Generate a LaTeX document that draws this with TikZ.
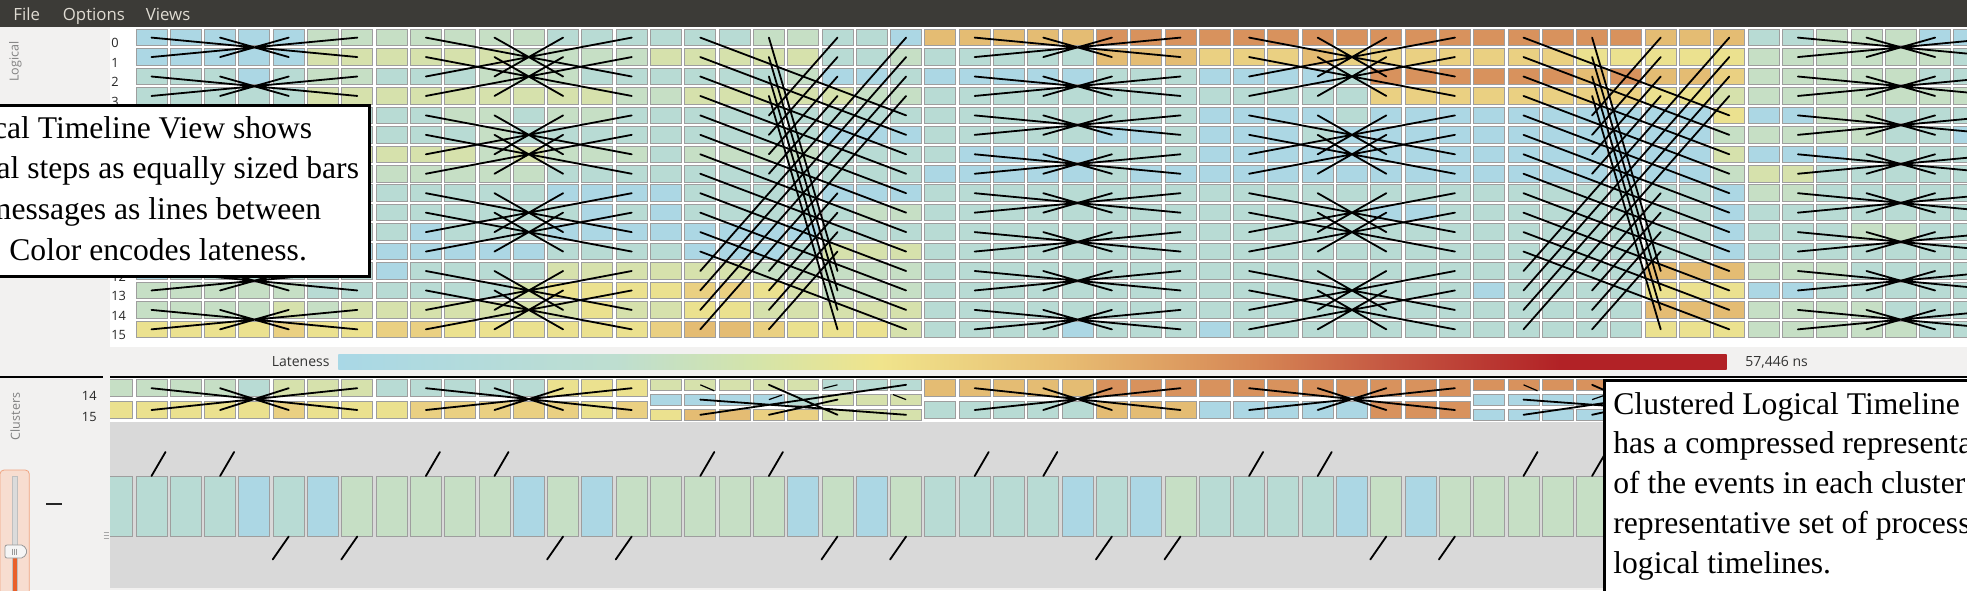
\documentclass[tikz,border=0pt]{standalone}
\usepackage{fontspec}
\setmainfont{Liberation Serif}
\newfontfamily\uifont{Open Sans}

% lateness colours of the cells
\definecolor{colB}{RGB}{172,215,228}
\definecolor{colT}{RGB}{184,219,212}
\definecolor{colG}{RGB}{198,223,197}
\definecolor{colL}{RGB}{214,225,172}
\definecolor{colY}{RGB}{235,225,143}
\definecolor{colD}{RGB}{234,208,130}
\definecolor{colA}{RGB}{228,188,115}
\definecolor{colO}{RGB}{216,146,93}
% window
\definecolor{menubg}{RGB}{60,59,55}
\definecolor{menufg}{RGB}{223,219,210}
\definecolor{panel}{RGB}{242,241,240}
\definecolor{trough}{RGB}{217,217,217}
\definecolor{slidefill}{RGB}{247,221,208}
\definecolor{slideedge}{RGB}{240,164,128}
\definecolor{slideorange}{RGB}{233,95,42}
% lateness scale
\definecolor{lsB}{RGB}{169,216,230}
\definecolor{lsT}{RGB}{190,222,208}
\definecolor{lsG}{RGB}{212,228,170}
\definecolor{lsY}{RGB}{240,228,140}
\definecolor{lsA}{RGB}{232,190,115}
\definecolor{lsO}{RGB}{214,135,85}
\definecolor{lsR2}{RGB}{196,85,65}
\definecolor{lsR}{RGB}{178,34,38}
\pgfdeclarehorizontalshading{lateness}{100bp}{color(0bp)=(lsB); color(25bp)=(lsB);
  color(35bp)=(lsT); color(40bp)=(lsG); color(44.5bp)=(lsY); color(51bp)=(lsA);
  color(58bp)=(lsO); color(63bp)=(lsR2); color(69bp)=(lsR); color(75bp)=(lsR); color(100bp)=(lsR)}

\tikzset{
  cell/.style={draw=black!38, line width=0.5pt},
  msg/.style={line width=0.9pt, line cap=round},
  callout/.style={draw=black, line width=1.5pt, fill=white},
  notetext/.style={anchor=base west, inner sep=0pt, font=\fontsize{15.8}{19}\selectfont},
  menutext/.style={anchor=base west, inner sep=0pt, text=menufg, font=\uifont\fontsize{8.4}{10}\selectfont},
  rowlabel/.style={anchor=base west, inner sep=0pt, text=black!85, font=\uifont\fontsize{6.4}{7.5}\selectfont},
  sidetext/.style={inner sep=0pt, rotate=90, text=black!50, font=\uifont\fontsize{6.25}{7.5}\selectfont},
  scaletext/.style={anchor=base west, inner sep=0pt, text=black!80, font=\uifont\fontsize{7}{8}\selectfont}
}

% first column, top, height, colour codes
\newcommand{\cellrun}[4]{%
  \foreach \code [count=\col from #1] in #4
    \draw[cell, fill=col\code] ({136+34.3*\col},{#2}) rectangle +(31,#3);}

\begin{document}
\begin{tikzpicture}[x=0.5pt, y=-0.5pt]
\useasboundingbox (0,0) rectangle (1967,590);
\clip (0,0) rectangle (1967,590);
\fill[panel] (0,0) rectangle (1967,590);

% menu bar
\fill[menubg] (0,0) rectangle (1967,27);
\node[menutext] (mfile) at (13,20) {File};
\node[menutext] (moptions) at (62.5,20) {Options};
\node[menutext] (mviews) at (145.5,20) {Views};

% logical timeline
\fill[white] (110,27) rectangle (1967,347);
\foreach \cl [count=\row from 0] in {
  {B,B,B,B,B,G,G,G,G,G,G,G,T,T,T,T,T,T,G,G,T,T,B,A,A,A,A,A,O,O,O,O,O,O,O,O,O,O,O,O,O,O,O,O,A,A,A,T,T,G,G,G,B,B},
  {B,B,B,B,B,L,L,L,L,L,L,G,G,G,G,L,L,L,L,L,T,T,G,T,T,T,T,T,A,A,A,D,D,D,A,D,D,D,D,D,D,D,Y,Y,Y,Y,Y,G,G,G,G,G,G,T},
  {T,T,T,B,T,G,G,T,T,T,G,G,G,T,T,T,T,T,T,G,B,B,T,B,B,B,B,B,T,T,T,B,B,B,B,T,O,O,O,O,O,O,A,O,A,A,D,G,G,G,G,G,T,T},
  {T,T,T,T,T,L,L,L,L,L,L,L,L,L,G,G,L,L,L,L,L,G,G,T,T,T,T,T,T,T,T,T,T,T,T,T,D,D,D,D,D,D,D,D,Y,Y,L,G,G,G,G,G,G,G},
  {T,T,T,T,T,T,T,T,T,G,G,T,G,G,T,T,T,T,T,T,T,T,T,T,T,T,T,T,T,T,T,B,B,B,B,T,B,B,B,B,B,B,B,B,B,B,Y,B,B,G,G,T,T,T},
  {T,T,T,T,T,T,T,T,T,T,G,T,T,T,T,T,T,T,T,T,B,B,B,T,T,T,T,T,B,B,T,B,B,B,T,B,B,B,B,B,B,B,B,B,B,B,G,G,G,G,G,T,T,B},
  {L,L,L,L,L,L,L,L,L,L,G,L,G,G,G,T,G,G,G,G,T,T,T,T,B,B,B,B,T,T,T,B,B,B,B,B,B,B,B,B,B,B,B,B,B,B,L,B,B,B,T,T,T,T},
  {G,G,G,G,G,G,G,G,G,G,G,G,T,T,T,T,T,T,T,T,T,T,T,B,B,B,B,B,T,B,B,B,B,B,B,B,B,B,B,B,B,B,B,B,B,B,G,L,L,T,T,T,T,T},
  {T,T,T,T,T,T,T,T,T,T,T,T,B,B,B,B,T,T,T,T,B,B,B,T,T,T,T,T,T,T,T,T,T,T,T,T,T,T,T,T,T,T,T,T,T,T,B,G,G,T,T,T,T,T},
  {T,T,T,T,T,T,T,T,T,T,T,T,T,B,T,B,T,T,T,T,T,G,G,T,T,T,T,T,T,T,T,T,T,T,T,T,B,B,T,T,T,T,T,T,T,T,B,T,T,T,T,T,T,T},
  {T,T,T,T,T,T,T,T,B,T,T,T,B,B,B,B,B,B,B,B,T,T,T,T,T,T,T,T,T,T,T,T,T,T,T,T,T,T,T,T,T,T,T,T,T,T,B,T,T,T,G,G,T,T},
  {B,B,B,B,B,B,B,B,B,B,B,B,T,T,T,T,B,B,B,T,L,L,L,T,T,T,T,T,T,T,T,T,T,T,T,T,T,T,T,T,T,T,T,T,T,T,B,T,T,T,T,T,T,T},
  {B,T,T,T,T,T,T,B,T,T,T,T,L,L,L,L,L,L,G,G,G,G,G,T,T,T,T,T,T,T,T,T,T,T,T,T,T,T,T,T,T,T,T,T,A,A,A,G,G,G,T,T,T,T},
  {G,G,G,G,G,T,T,T,T,T,T,L,Y,Y,Y,Y,D,D,Y,L,G,G,G,T,T,T,T,T,T,T,T,T,T,T,T,T,T,T,T,B,T,T,T,T,Y,Y,Y,B,B,T,T,T,T,T},
  {G,G,G,G,L,G,L,L,L,L,L,L,L,Y,L,L,Y,Y,L,L,L,L,L,T,T,T,T,T,T,T,T,T,T,T,T,T,T,T,T,T,T,T,T,T,A,A,A,G,G,G,G,T,T,T},
  {Y,Y,Y,Y,D,Y,Y,D,D,Y,Y,Y,Y,Y,Y,D,A,A,D,Y,Y,Y,L,T,T,T,T,B,T,T,T,B,T,T,T,T,T,T,T,T,T,T,T,T,Y,Y,Y,G,G,G,G,G,T,T}}{
  \cellrun{0}{29.3+19.45*\row}{16.6}{\cl}
}
\foreach \row in {0,...,15} {
  \node[rowlabel] (row\row) at (111,{47.7+19.47*\row}) {\row};
  \foreach \col in {0,...,56}
    \coordinate (L\row-\col) at ({151.5+34.3*\col},{37.6+19.45*\row});
}

% messages: pair exchanges
\foreach \grp in {0,24,48} {
  \pgfmathtruncatemacro\cB{\grp+2}
  \pgfmathtruncatemacro\cC{\grp+4}
  \pgfmathtruncatemacro\cD{\grp+6}
  \foreach \rA in {0,2,...,14} {
    \pgfmathtruncatemacro\rB{\rA+1}
    \draw[msg] (L\rA-\grp) -- (L\rB-\cD) (L\rB-\grp) -- (L\rA-\cD)
               (L\rA-\cB) -- (L\rB-\cC) (L\rB-\cB) -- (L\rA-\cC);
  }
}
% messages: exchanges two rows apart
\foreach \grp in {8,32} {
  \pgfmathtruncatemacro\cB{\grp+2}
  \pgfmathtruncatemacro\cC{\grp+4}
  \pgfmathtruncatemacro\cD{\grp+6}
  \foreach \qd in {0,4,8,12}
    \foreach \kk in {0,1} {
      \pgfmathtruncatemacro\rA{\qd+\kk}
      \pgfmathtruncatemacro\rB{\qd+\kk+2}
      \draw[msg] (L\rA-\grp) -- (L\rB-\cD) (L\rB-\grp) -- (L\rA-\cD)
                 (L\rA-\cB) -- (L\rB-\cC) (L\rB-\cB) -- (L\rA-\cC);
    }
}
% messages: shifts by four rows
\foreach \grp in {16,40} {
  \pgfmathtruncatemacro\cB{\grp+2}
  \pgfmathtruncatemacro\cC{\grp+4}
  \pgfmathtruncatemacro\cD{\grp+6}
  \foreach \rA in {0,...,11} {
    \pgfmathtruncatemacro\rB{\rA+4}
    \draw[msg] (L\rA-\grp) -- (L\rB-\cD);
  }
  \foreach \kk in {0,...,3} {
    \pgfmathtruncatemacro\rA{\kk+4}
    \pgfmathtruncatemacro\rB{\kk+8}
    \pgfmathtruncatemacro\rC{\kk+12}
    \draw[msg] (L\rC-\grp) -- (L\kk-\cD) (L\rA-\cB) -- (L\kk-\cC)
               (L\rC-\cB) -- (L\rB-\cC) (L\kk-\cB) -- (L\rC-\cC);
  }
}

% lateness scale
\node[scaletext] (latelabel) at (271.5,366) {Lateness};
\shade[shading=lateness] (338.3,354) rectangle (1726.7,369.3);
\node[scaletext] (latemax) at (1745,366) {57,446 ns};

% splitter
\draw[line width=1pt] (0,376.5) -- (103,376.5) (110,376.5) -- (1967,376.5);

% clustered logical timeline
\begin{scope}
  \clip (110,377.5) rectangle (1967,590);
  \fill[white] (110,377.5) rectangle (1967,421.5);
  \fill[trough] (110,421.5) rectangle (1967,588);
  \cellrun{-1}{379.4}{17.5}{{G,G,G,G,T,L,L,L,T,T,T,T,T,Y,Y,Y}}
  \cellrun{23}{379.4}{17.5}{{A,A,A,A,A,O,O,O,O,O,O,O,O,O,O,O}}
  \cellrun{47}{379.4}{17.5}{{G,G,G,G,T,T,T}}
  \cellrun{-1}{401.3}{17.5}{{Y,Y,Y,Y,Y,D,Y,Y,Y,D,D,D,D,D,Y,D}}
  \cellrun{23}{401.3}{17.5}{{T,T,T,T,T,A,A,A,B,B,B,B,B,O,O,O}}
  \cellrun{47}{401.3}{17.5}{{G,G,G,T,T,T,T}}
  \cellrun{15}{379.4}{10.8}{{L,L,L,L,L,T,T,T}}
  \cellrun{15}{394.2}{10.8}{{B,B,B,B,T,L,L,L}}
  \cellrun{15}{409.4}{10.8}{{Y,A,A,D,D,L,L,L}}
  \cellrun{39}{379.4}{10.8}{{O,O,O,O,O,O,O,O}}
  \cellrun{39}{394.2}{10.8}{{B,B,B,B,B,B,B,B}}
  \cellrun{39}{409.4}{10.8}{{B,B,B,B,B,B,B,B}}
  \cellrun{-1}{476}{60.5}{{T,T,T,T,B,T,B,G,G,G,G,G,B,G,B,G,G,G,G,G,B,G,B,G,T,T,T,T,B,T,B,G,T,T,T,T,B,G,B,G,G,G,G,G,G,G,G,G,G,T,T,G,G,T,T}}
  \foreach \col in {-1,...,56} {
    \coordinate (P14-\col) at ({151.5+34.3*\col},388.2);
    \coordinate (P15-\col) at ({151.5+34.3*\col},410);
    \coordinate (S1-\col) at ({151.5+34.3*\col},384.8);
    \coordinate (S2-\col) at ({151.5+34.3*\col},399.6);
    \coordinate (S3-\col) at ({151.5+34.3*\col},414.8);
    \coordinate (KT\col) at ({151.5+34.3*\col},476);
    \coordinate (KB\col) at ({151.5+34.3*\col},536.5);
  }
  \foreach \grp in {0,8,24,32,48} {
    \pgfmathtruncatemacro\cB{\grp+2}
    \pgfmathtruncatemacro\cC{\grp+4}
    \pgfmathtruncatemacro\cD{\grp+6}
    \draw[msg] (P14-\grp) -- (P15-\cD) (P15-\grp) -- (P14-\cD)
               (P14-\cB) -- (P15-\cC) (P15-\cB) -- (P14-\cC);
  }
  \foreach \grp in {16,40} {
    \pgfmathtruncatemacro\cB{\grp+2}
    \pgfmathtruncatemacro\cC{\grp+4}
    \pgfmathtruncatemacro\cD{\grp+6}
    \draw[msg] (S2-\grp) -- (S3-\cD) (S3-\grp) -- (S1-\cD)
               (S1-\cB) -- (S3-\cC) (S3-\cB) -- (S2-\cC);
    \draw[line width=0.6pt] (S1-\grp) -- +(14,6) (S2-\cD) -- +(-13,-5)
               (S1-\cC) -- +(-14,3.5) (S2-\cB) -- +(13,-4.5);
  }
  % stubs of messages on the cluster bars
  \foreach \grp in {0,8,...,48} {
    \pgfmathtruncatemacro\cB{\grp+2}
    \pgfmathtruncatemacro\cC{\grp+4}
    \pgfmathtruncatemacro\cD{\grp+6}
    \draw[msg] (KT\grp) -- ++(14,-24) (KT\cB) -- ++(14,-24)
               (KB\cC) -- ++(-16,23) (KB\cD) -- ++(-16,23);
  }
\end{scope}

% side panel
\node[sidetext] (logicallabel) at (15.3,61.5) {Logical};
\node[sidetext] (clusterlabel) at (15.3,416.5) {Clusters};
\node[rowlabel, anchor=base east] (crow14) at (97,400) {14};
\node[rowlabel, anchor=base east] (crow15) at (97,421.5) {15};
\draw[fill=slidefill, draw=slideedge, rounded corners=2pt] (0,470) rectangle (29.3,610);
\draw[fill=black!14, draw=black!25] (12.5,476) rectangle (17.5,610);
\fill[slideorange] (12.8,557) rectangle (17.2,610);
\draw[fill=black!4, draw=black!40, rounded corners=1pt]
  (5,545) -- (23.5,545) -- (27.5,551.5) -- (23.5,558) -- (5,558) -- cycle;
\foreach \gx in {12,14,16}
  \draw[black!40, line width=0.3pt] (\gx,548.5) -- (\gx,554.5);
\draw[line width=1pt, black!85] (46,504) -- (62,504);
\foreach \gy in {532,535,538}
  \draw[black!35, line width=0.4pt] (103.5,\gy) -- (108.5,\gy);

% call-outs
\draw[callout] (-100,105.8) rectangle (369.2,276.5);
\foreach \txt [count=\li from 0] in {Logical Timeline View shows,logical steps as equally sized bars,and messages as lines between}
  \node[notetext] (leftnote\li) at (-67,{138.3+40.6*\li}) {\txt};
\node[notetext] (leftnote3) at (9,260.1) {Color encodes lateness.};
\draw[callout] (1604.2,380.5) rectangle (2010,640);
\foreach \txt [count=\li from 0] in {Clustered Logical Timeline View,has a compressed representation,of the events in each cluster,representative set of processes,logical timelines.}
  \node[notetext] (rightnote\li) at (1613,{414+39.8*\li}) {\txt};
\end{tikzpicture}
\end{document}
